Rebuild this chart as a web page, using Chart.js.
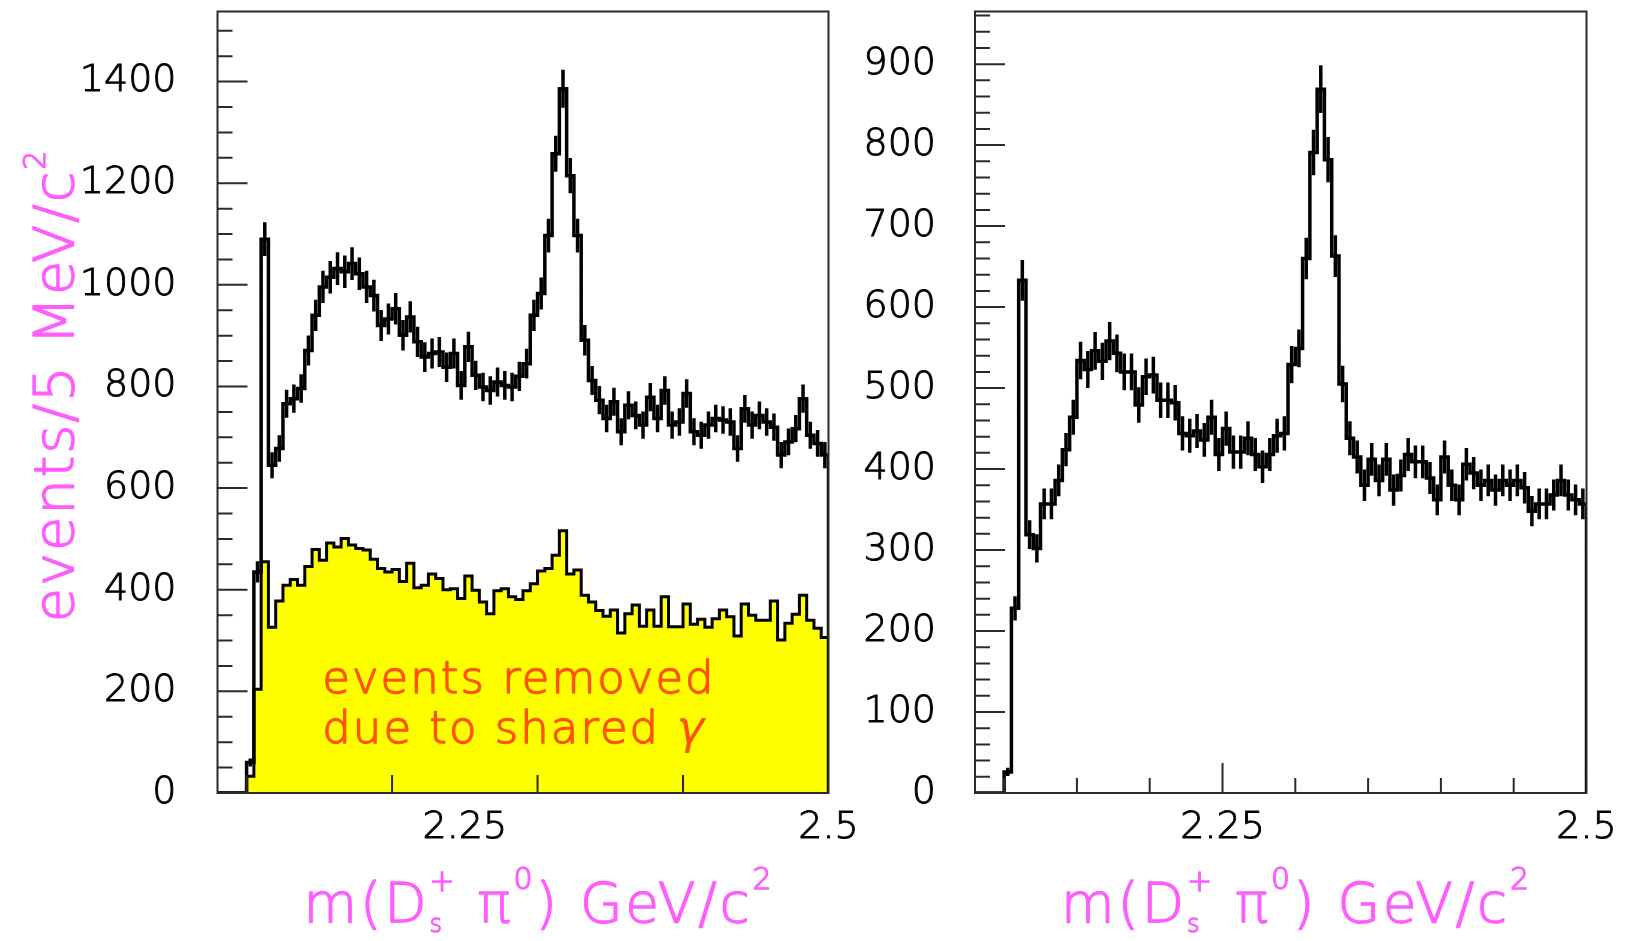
<!DOCTYPE html>
<html>
<head>
<meta charset="utf-8">
<title>m(Ds pi0) mass spectra</title>
<script src="https://cdn.jsdelivr.net/npm/chart.js"></script>
<style>
  html, body { margin: 0; padding: 0; background: #fff; }
  #wrap { position: relative; width: 1632px; height: 941px; overflow: hidden; background: #fff; }
  canvas { position: absolute; top: 0; }
  #leftChart { left: 0; }
  #rightChart { left: 840px; }
</style>
</head>
<body>
<div id="wrap">
  <canvas id="leftChart" width="880" height="941"></canvas>
  <canvas id="rightChart" width="792" height="941"></canvas>
</div>
<script>
// 5 MeV bins starting at 2.08 GeV/c^2
const BIN_START = 2.08;
const BIN_WIDTH = 0.005;

// left panel, all candidates (black, with errors)
const allCandidates = [
  0, 0, 0, 0, 60, 435, 1090, 645, 678, 766,
  776, 796, 871, 940, 996, 1015, 1032, 1026, 1042, 1022,
  996, 979, 920, 933, 953, 901, 937, 888, 858, 865,
  868, 838, 865, 802, 878, 822, 799, 792, 809, 802,
  799, 820, 845, 940, 983, 1097, 1258, 1386, 1215, 1097,
  891, 812, 773, 737, 770, 711, 763, 743, 724, 779,
  737, 792, 724, 730, 786, 711, 704, 724, 737, 734,
  730, 678, 756, 724, 743, 730, 720, 665, 691, 717,
  776, 704, 688, 665
];

// left panel, events removed due to shared gamma (yellow)
const removedShared = [
  0, 0, 0, 0, 33, 204, 455, 326, 378, 409,
  420, 409, 446, 479, 458, 492, 484, 501, 488, 481,
  478, 460, 442, 435, 440, 416, 452, 404, 409, 431,
  422, 400, 402, 383, 427, 399, 376, 353, 398, 402,
  386, 381, 398, 412, 437, 442, 468, 516, 431, 439,
  389, 376, 359, 348, 360, 315, 353, 370, 328, 360,
  328, 386, 327, 327, 372, 332, 342, 326, 343, 360,
  347, 309, 372, 350, 340, 340, 378, 301, 334, 352,
  389, 340, 324, 306
];

// right panel, after removing shared-gamma events
const afterRemoval = [
  0, 0, 0, 0, 26, 228, 633, 319, 302, 357,
  357, 386, 424, 464, 534, 523, 546, 533, 558, 543,
  520, 520, 479, 514, 516, 485, 485, 482, 444, 441,
  447, 436, 464, 418, 450, 421, 421, 438, 418, 403,
  418, 441, 444, 529, 549, 660, 791, 869, 782, 663,
  505, 438, 415, 380, 412, 386, 412, 374, 392, 418,
  409, 409, 389, 362, 415, 380, 362, 406, 395, 380,
  386, 374, 386, 380, 386, 377, 348, 357, 357, 368,
  386, 368, 362, 357
];

const X_MIN = 2.08;
const X_MAX = 2.5;
const xLabels = [2.25, 2.5];
const leftYLabels = [0, 200, 400, 600, 800, 1000, 1200, 1400];
const rightYLabels = [0, 100, 200, 300, 400, 500, 600, 700, 800, 900];
const leftYMax = 1538;
const rightYMax = 965;
const leftXTicks = [2.1, 2.2, 2.3, 2.4];
const rightXTicks = [2.1, 2.15, 2.2, 2.25, 2.3, 2.35, 2.4, 2.45];

const FAMILY = '"DejaVu Sans", sans-serif';
const MAGENTA = '#ff5cff';
const NOTE_COLOR = '#ff5200';

function histPoints(values) {
  const pts = values.map((v, i) => ({ x: BIN_START + i * BIN_WIDTH, y: v }));
  const end = BIN_START + values.length * BIN_WIDTH;
  pts.push({ x: end, y: values[values.length - 1] });
  pts.push({ x: end, y: 0 });
  return pts;
}

// vertical sqrt(N) error bars at bin centres
const errorBars = {
  id: 'errorBars',
  afterDatasetsDraw(chart) {
    const { ctx, scales: { x, y } } = chart;
    ctx.save();
    ctx.strokeStyle = '#000';
    ctx.lineWidth = 3.5;
    ctx.beginPath();
    chart.data.datasets.forEach(ds => {
      if (!ds.binValues) return;
      ds.binValues.forEach((n, i) => {
        if (n <= 0) return;
        const err = Math.sqrt(n);
        const px = x.getPixelForValue(BIN_START + (i + 0.5) * BIN_WIDTH);
        ctx.moveTo(px, y.getPixelForValue(n - err));
        ctx.lineTo(px, y.getPixelForValue(n + err));
      });
    });
    ctx.stroke();
    ctx.restore();
  }
};

// box frame and inward tick marks
const pawFrame = {
  id: 'pawFrame',
  afterDatasetsDraw(chart, args, opts) {
    const { ctx, chartArea: a, scales: { x, y } } = chart;
    ctx.save();
    ctx.strokeStyle = '#2a2a2a';
    ctx.lineWidth = 2;
    ctx.beginPath();
    for (let v = opts.yMinor; v < y.max; v += opts.yMinor) {
      const py = y.getPixelForValue(v);
      const len = v % opts.yMajor === 0 ? 30 : 15;
      ctx.moveTo(a.left, py);
      ctx.lineTo(a.left + len, py);
    }
    opts.xTicks.forEach(v => {
      const px = x.getPixelForValue(v);
      const len = opts.xMajor.includes(v) ? 30 : opts.xTickLen;
      ctx.moveTo(px, a.bottom);
      ctx.lineTo(px, a.bottom - len);
    });
    ctx.stroke();
    ctx.strokeRect(a.left, a.top, a.right - a.left, a.bottom - a.top);
    ctx.restore();
  }
};

function partFont(p) {
  return (p.italic ? 'italic ' : '') + (p.weight || 200) + ' ' + p.size + 'px ' + FAMILY;
}

// text in thin face, thickened with a light stroke
function drawRich(ctx, parts, x, y, align, spacing) {
  ctx.letterSpacing = spacing + 'px';
  const widths = parts.map(p => {
    ctx.font = partFont(p);
    let w = ctx.measureText(p.text).width;
    if (p.under) {
      ctx.font = partFont(p.under);
      w = Math.max(w, ctx.measureText(p.under.text).width);
    }
    return w;
  });
  const total = widths.reduce((s, w) => s + w, 0);
  let cx = align === 'center' ? x - total / 2 : x;
  ctx.textAlign = 'left';
  ctx.textBaseline = 'alphabetic';
  ctx.strokeStyle = ctx.fillStyle;
  ctx.lineWidth = 1.3;
  ctx.lineJoin = 'round';
  parts.forEach((p, i) => {
    ctx.font = partFont(p);
    ctx.fillText(p.text, cx, y + (p.dy || 0));
    if (!p.noStroke) ctx.strokeText(p.text, cx, y + (p.dy || 0));
    if (p.under) {
      ctx.font = partFont(p.under);
      ctx.fillText(p.under.text, cx, y + p.under.dy);
      ctx.strokeText(p.under.text, cx, y + p.under.dy);
    }
    cx += widths[i];
  });
  ctx.letterSpacing = '0px';
}

const xTitle = [
  { text: 'm(D', size: 55 },
  { text: '+', size: 30, dy: -31, under: { text: 's', size: 24, dy: 10 } },
  { text: ' π', size: 55 },
  { text: '0', size: 30, dy: -33 },
  { text: ') GeV/c', size: 55 },
  { text: '2', size: 30, dy: -33 }
];
const yTitle = [
  { text: 'events/5 MeV/c', size: 56 },
  { text: '2', size: 30, dy: -28 }
];

const pawText = {
  id: 'pawText',
  afterDraw(chart, args, opts) {
    const { ctx, chartArea: a } = chart;
    ctx.save();
    ctx.fillStyle = MAGENTA;
    drawRich(ctx, xTitle, a.left + 321.5, 922, 'center', 2.8);
    if (opts.yTitle) {
      ctx.save();
      ctx.translate(73, 385.5);
      ctx.rotate(-Math.PI / 2);
      drawRich(ctx, yTitle, 0, 0, 'center', 1.8);
      ctx.restore();
    }
    if (opts.note) {
      ctx.fillStyle = NOTE_COLOR;
      drawRich(ctx, [{ text: 'events removed', size: 45 }], a.left + 104.8, 693, 'left', 2);
      drawRich(ctx, [
        { text: 'due to shared ', size: 45 },
        { text: 'γ', size: 47, italic: true, noStroke: true }
      ], a.left + 104.8, 743, 'left', 2);
    }
    ctx.restore();
  }
};

const tickFont = { family: FAMILY, size: 38, weight: '200' };

function makeScales(yMax, yLabels, yWidth, yPad) {
  const tickOpts = { font: tickFont, color: '#000', textStrokeColor: '#000', textStrokeWidth: 0.9 };
  return {
    x: {
      type: 'linear',
      min: X_MIN,
      max: X_MAX,
      grid: { display: false, drawTicks: false },
      border: { display: false },
      ticks: Object.assign({}, tickOpts, { padding: 12, maxRotation: 0, autoSkip: false,
        callback: v => String(v) }),
      afterBuildTicks: s => { s.ticks = xLabels.map(v => ({ value: v })); },
      afterFit: s => { s.height = 148; s.paddingLeft = 0; s.paddingRight = 0; }
    },
    y: {
      type: 'linear',
      min: 0,
      max: yMax,
      grid: { display: false, drawTicks: false },
      border: { display: false },
      ticks: Object.assign({}, tickOpts, { padding: yPad, callback: v => String(v) }),
      afterBuildTicks: s => { s.ticks = yLabels.map(v => ({ value: v })); },
      afterFit: s => { s.width = yWidth; s.paddingTop = 0; s.paddingBottom = 0; }
    }
  };
}

const lineStyle = {
  type: 'line',
  stepped: true,
  pointRadius: 0,
  tension: 0,
  borderJoinStyle: 'miter',
  borderCapStyle: 'butt'
};

new Chart(document.getElementById('leftChart'), {
  data: {
    datasets: [
      Object.assign({}, lineStyle, {
        label: 'all candidates',
        data: histPoints(allCandidates),
        binValues: allCandidates,
        borderColor: '#000',
        borderWidth: 3.5,
        fill: false
      }),
      Object.assign({}, lineStyle, {
        label: 'events removed due to shared γ',
        data: histPoints(removedShared),
        borderColor: '#000',
        borderWidth: 3,
        backgroundColor: '#ffff00',
        fill: 'origin'
      })
    ]
  },
  options: {
    responsive: false,
    animation: false,
    layout: { padding: { left: 0, top: 11.5, right: 51.5, bottom: 0 } },
    scales: makeScales(leftYMax, leftYLabels, 217.5, 41),
    plugins: {
      legend: { display: false },
      tooltip: { enabled: false },
      pawFrame: { yMinor: 50, yMajor: 200, xTicks: leftXTicks, xMajor: [], xTickLen: 18 },
      pawText: { yTitle: true, note: true }
    }
  },
  plugins: [errorBars, pawFrame, pawText]
});

new Chart(document.getElementById('rightChart'), {
  data: {
    datasets: [
      Object.assign({}, lineStyle, {
        label: 'after removal',
        data: histPoints(afterRemoval),
        binValues: afterRemoval,
        borderColor: '#000',
        borderWidth: 3.5,
        fill: false
      })
    ]
  },
  options: {
    responsive: false,
    animation: false,
    layout: { padding: { left: 0, top: 11.5, right: 45.5, bottom: 0 } },
    scales: makeScales(rightYMax, rightYLabels, 135, 39),
    plugins: {
      legend: { display: false },
      tooltip: { enabled: false },
      pawFrame: { yMinor: 20, yMajor: 100, xTicks: rightXTicks, xMajor: [2.25], xTickLen: 15 },
      pawText: { yTitle: false, note: false }
    }
  },
  plugins: [errorBars, pawFrame, pawText]
});
</script>
</body>
</html>
